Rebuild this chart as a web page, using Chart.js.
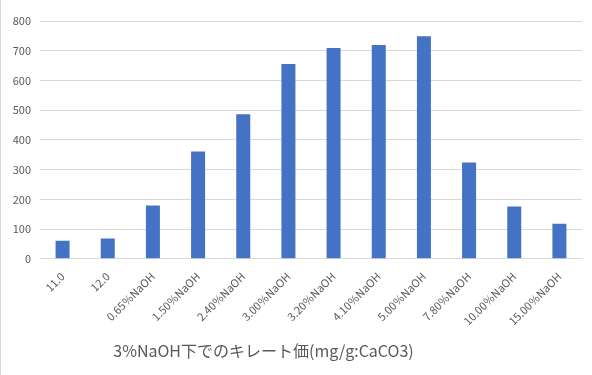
<!DOCTYPE html>
<html>
<head>
<meta charset="utf-8">
<script src="https://cdn.jsdelivr.net/npm/chart.js@4"></script>
<style>
  html, body { margin: 0; padding: 0; background: #fff; }
  #wrap { width: 591px; height: 375px; border-left: 1px solid #d9d9d9; }
</style>
</head>
<body>
<div id="wrap"><canvas id="grafico"></canvas></div>
<script>
// categorias e valores
const categorias = ['11.0', '12.0', '0.65％NaOH', '1.50％NaOH', '2.40％NaOH', '3.00％NaOH',
  '3.20％NaOH', '4.10％NaOH', '5.00％NaOH', '7.80％NaOH', '10.00％NaOH', '15.00％NaOH']
const valores = [61, 68, 179, 361, 486, 655, 709, 719, 749, 324, 176, 118]
const titulo = '3%NaOH下でのキレート価(mg/g:CaCO3)'

const fonte = "'Noto Sans CJK JP', 'Noto Sans', sans-serif"
const cinza = '#595959'

// o titulo do original fica um pouco a esquerda do centro
const deslocaTitulo = {
  id: 'deslocaTitulo',
  afterLayout(chart) {
    if (chart.titleBlock) chart.titleBlock.right -= 56
  }
}

const ctx = document.getElementById('grafico')
new Chart(ctx, {
  type: 'bar',
  data: {
    labels: categorias,
    datasets: [{
      data: valores,
      backgroundColor: '#4472c4',
      barPercentage: 0.62,
      categoryPercentage: 0.5
    }]
  },
  options: {
    responsive: true,
    maintainAspectRatio: false,
    animation: false,
    layout: { padding: { left: 0, right: 10, top: 21, bottom: 8 } },
    scales: {
      y: {
        min: 0,
        max: 800,
        afterFit: (eixo) => { eixo.width = 39 },
        ticks: { stepSize: 100, color: cinza, font: { family: fonte, size: 11 }, padding: 9 },
        grid: { color: '#d9d9d9', drawTicks: false },
        border: { display: false }
      },
      x: {
        ticks: { color: cinza, font: { family: fonte, size: 11 }, maxRotation: 45, minRotation: 45, autoSkip: false },
        grid: { display: false },
        border: { color: '#d9d9d9' }
      }
    },
    plugins: {
      legend: { display: false },
      tooltip: { enabled: false },
      title: {
        display: true,
        text: titulo,
        position: 'bottom',
        color: cinza,
        font: { family: fonte, size: 16, weight: 'normal' },
        padding: { top: 11, bottom: 6 }
      }
    }
  },
  plugins: [deslocaTitulo]
})
</script>
</body>
</html>
